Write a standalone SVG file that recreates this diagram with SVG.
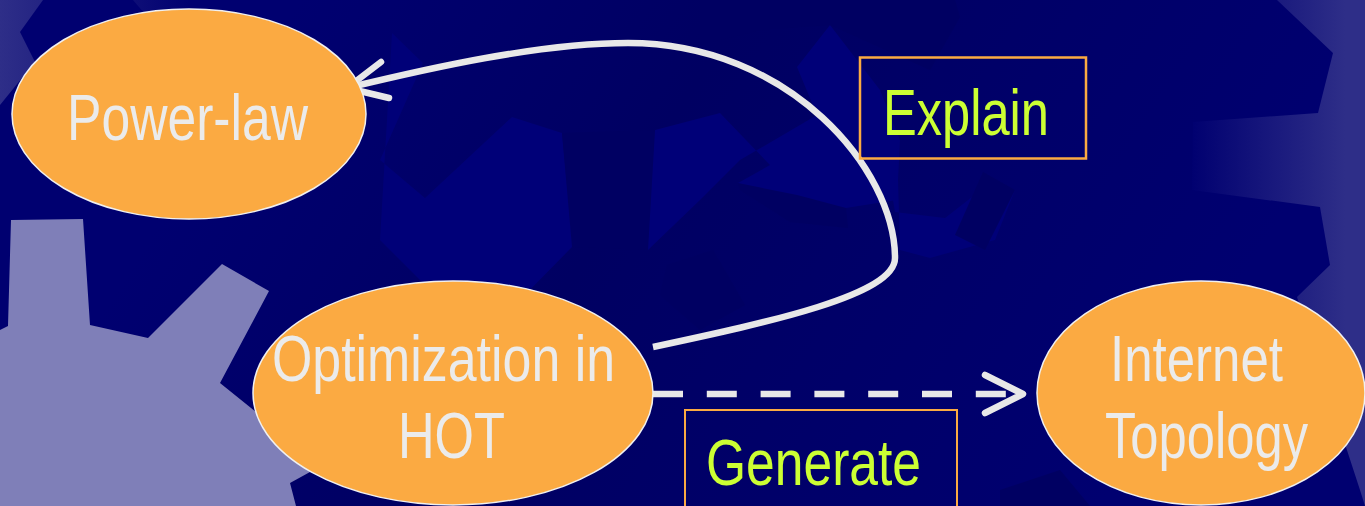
<svg xmlns="http://www.w3.org/2000/svg" width="1365" height="506" viewBox="0 0 1365 506">
  <defs>
    <linearGradient id="gRight" x1="1190" y1="0" x2="1345" y2="0" gradientUnits="userSpaceOnUse">
      <stop offset="0" stop-color="#000070"/>
      <stop offset="1" stop-color="#2E2E88"/>
    </linearGradient>
    <linearGradient id="gLeft" x1="0" y1="0" x2="190" y2="0" gradientUnits="userSpaceOnUse">
      <stop offset="0" stop-color="#2E2E88"/>
      <stop offset="1" stop-color="#000070"/>
    </linearGradient>
    <linearGradient id="gBg" x1="300" y1="0" x2="1100" y2="506" gradientUnits="userSpaceOnUse">
      <stop offset="0" stop-color="#000070"/>
      <stop offset="0.4" stop-color="#000062"/>
      <stop offset="1" stop-color="#000070"/>
    </linearGradient>
    <style>
      .node { fill: #FBAA42; stroke: #F0F0F0; stroke-width: 1.5; }
      .ntext { font-family: "Liberation Sans", Arial, sans-serif; font-size: 64px; fill: #EBEBEB; }
      .ltext { font-family: "Liberation Sans", Arial, sans-serif; font-size: 64px; fill: #CCFF33; }
      .lbox { fill: none; stroke: #FBAA42; }
      .conn { fill: none; stroke: #E8E8E8; stroke-width: 6.5; }
      .head { fill: none; stroke: #E8E8E8; stroke-width: 6.5; stroke-linecap: round; stroke-linejoin: round; }
      .lite { fill: #000078; }
      .dark { fill: #000062; }
    </style>
  </defs>

  <!-- background -->
  <rect x="0" y="0" width="1365" height="506" fill="url(#gBg)"/>

  <!-- faint gear shapes -->
  <polygon class="lite" points="392,33 423,63 380,160 425,198 512,117 562,133 572,247 520,300 440,300 380,240"/>
  <polygon class="dark" points="562,133 655,130 648,250 573,247"/>
  <polygon class="lite" points="655,130 720,113 770,165 738,183 797,222 846,208 897,200 900,140 880,90 830,25 797,67 817,115 740,160 700,200 648,250"/>
  <polygon class="dark" points="700,0 955,0 960,17 930,70 830,25 760,30 700,45"/>
  <polygon class="dark" points="738,183 797,195 846,208 848,228 790,222 740,190"/>
  <polygon class="lite" points="897,143 893,200 895,212 945,218 990,183 1015,190 995,240 930,258 900,250"/>
  <polygon class="dark" points="983,172 1015,190 985,250 955,235"/>
  <polygon class="dark" points="667,265 713,250 745,305 700,330 660,295"/>
  <polygon class="dark" points="1000,490 1060,470 1090,506 1000,506"/>

  <!-- top-left gradient gear -->
  <polygon fill="url(#gLeft)" points="0,0 43,0 20,32 35,62 0,105"/>
  <polygon fill="url(#gLeft)" points="133,0 195,0 180,18 150,20"/>

  <!-- right gradient gear -->
  <polygon fill="url(#gRight)" points="1277,0 1365,0 1365,506 1360,490 1297,297 1330,265 1320,207 1192,190 1193,122 1318,113 1333,53"/>

  <!-- purple gear bottom-left -->
  <polygon fill="#7F7FB8" points="0,330 8,326 11,220 83,219 90,325 148,338 222,264 269,291 220,383 256,412 300,440 310,472 290,483 296,506 0,506"/>

  <!-- connectors -->
  <g id="connectors">
    <path class="conn" d="M653,347 C770,322 895,295 895,258 C895,170 790,43 628,43 C540,43 430,68 347,88"/>
    <polyline class="head" points="381,62 347,88 389,98"/>
    <line class="conn" x1="653" y1="394" x2="1008" y2="394" stroke-dasharray="30 23.8"/>
    <polyline class="head" points="985,375 1023,394 985,413"/>
  </g>

  <!-- nodes -->
  <g id="node-powerlaw">
    <ellipse class="node" cx="189" cy="114" rx="177" ry="105"/>
    <text class="ntext" x="67" y="140" textLength="241" lengthAdjust="spacingAndGlyphs">Power-law</text>
  </g>
  <g id="node-optimization">
    <ellipse class="node" cx="453" cy="393" rx="200" ry="112"/>
    <text class="ntext" x="272" y="381" textLength="343" lengthAdjust="spacingAndGlyphs">Optimization in</text>
    <text class="ntext" x="398" y="458" textLength="107" lengthAdjust="spacingAndGlyphs">HOT</text>
  </g>
  <g id="node-internet">
    <ellipse class="node" cx="1201" cy="393" rx="164" ry="112"/>
    <text class="ntext" x="1110" y="381" textLength="173" lengthAdjust="spacingAndGlyphs">Internet</text>
    <text class="ntext" x="1105" y="458" textLength="203" lengthAdjust="spacingAndGlyphs">Topology</text>
  </g>

  <!-- labels -->
  <g id="label-explain">
    <rect class="lbox" x="860" y="57.5" width="226" height="101" stroke-width="2.5"/>
    <text class="ltext" x="883" y="135" textLength="166" lengthAdjust="spacingAndGlyphs">Explain</text>
  </g>
  <g id="label-generate">
    <rect class="lbox" x="685" y="410" width="272" height="110" stroke-width="2"/>
    <text class="ltext" x="706" y="485" textLength="215" lengthAdjust="spacingAndGlyphs">Generate</text>
  </g>
</svg>
